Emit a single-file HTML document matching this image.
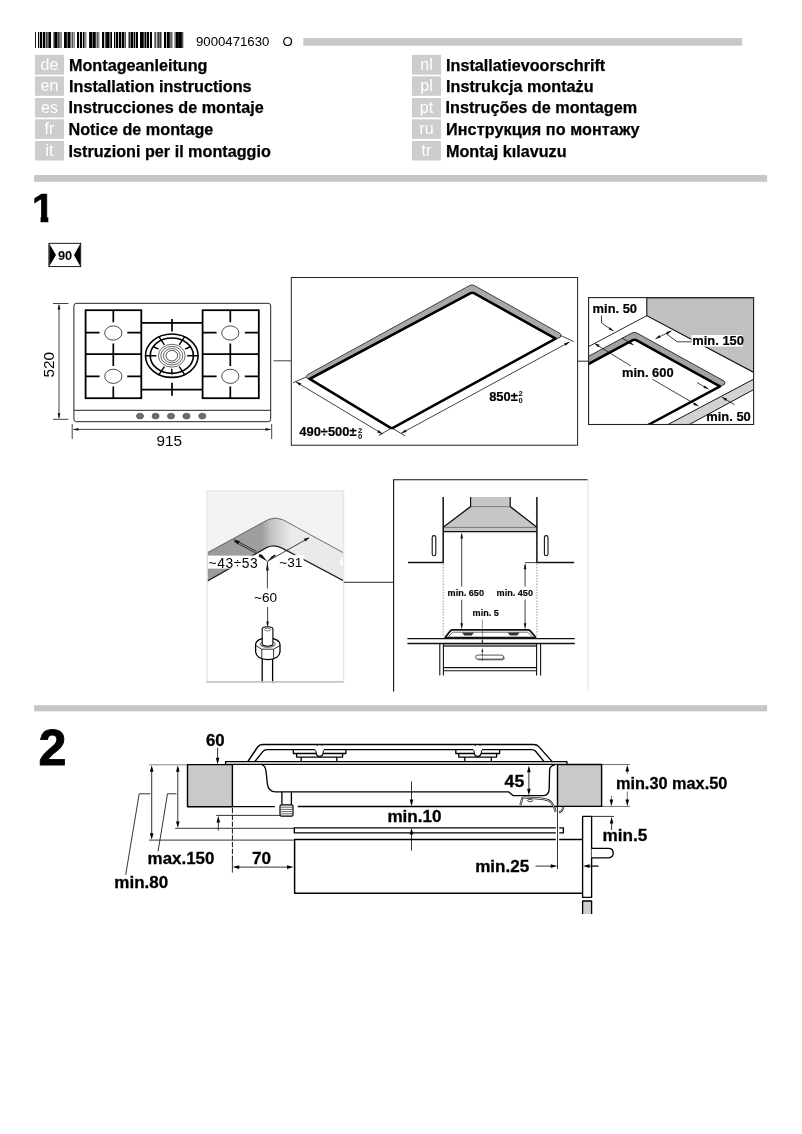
<!DOCTYPE html>
<html lang="de">
<head>
<meta charset="utf-8">
<title>Montageanleitung 9000471630</title>
<style>
html,body{margin:0;padding:0;background:#fff;}
body{width:802px;height:1134px;overflow:hidden;position:relative;font-family:"Liberation Sans",sans-serif;}
svg{position:absolute;left:0;top:0;display:block;will-change:transform;}
text{font-family:"Liberation Sans",sans-serif;fill:#000;}
.b{font-weight:bold;}
.h{font-weight:bold;font-size:16.2px;stroke:#000;stroke-width:0.25px;}
.lc{font-size:16px;fill:#fff;text-anchor:middle;}
.s2{font-weight:bold;font-size:16.1px;}
.s2x{stroke:#000;stroke-width:0.3px;}
.ln{fill:none;stroke:#000;}
</style>
</head>
<body>
<svg width="802" height="1134" viewBox="0 0 802 1134">
<g id="barcode" shape-rendering="crispEdges">
<rect x="35" y="32" width="1" height="16" fill="#1c1c1c"/>
<rect x="38" y="32" width="1" height="16" fill="#000000"/>
<rect x="39" y="32" width="1" height="16" fill="#c6c6c6"/>
<rect x="40" y="32" width="1" height="16" fill="#000000"/>
<rect x="41" y="32" width="1" height="16" fill="#000000"/>
<rect x="42" y="32" width="1" height="16" fill="#c6c6c6"/>
<rect x="43" y="32" width="1" height="16" fill="#000000"/>
<rect x="44" y="32" width="1" height="16" fill="#000000"/>
<rect x="45" y="32" width="1" height="16" fill="#aaaaaa"/>
<rect x="46" y="32" width="1" height="16" fill="#393939"/>
<rect x="47" y="32" width="1" height="16" fill="#717171"/>
<rect x="48" y="32" width="1" height="16" fill="#555555"/>
<rect x="49" y="32" width="1" height="16" fill="#000000"/>
<rect x="50" y="32" width="1" height="16" fill="#000000"/>
<rect x="53" y="32" width="1" height="16" fill="#8e8e8e"/>
<rect x="54" y="32" width="1" height="16" fill="#393939"/>
<rect x="55" y="32" width="1" height="16" fill="#000000"/>
<rect x="56" y="32" width="1" height="16" fill="#000000"/>
<rect x="57" y="32" width="1" height="16" fill="#717171"/>
<rect x="58" y="32" width="1" height="16" fill="#393939"/>
<rect x="59" y="32" width="1" height="16" fill="#717171"/>
<rect x="60" y="32" width="1" height="16" fill="#8e8e8e"/>
<rect x="61" y="32" width="1" height="16" fill="#8e8e8e"/>
<rect x="64" y="32" width="1" height="16" fill="#000000"/>
<rect x="65" y="32" width="1" height="16" fill="#000000"/>
<rect x="66" y="32" width="1" height="16" fill="#1c1c1c"/>
<rect x="67" y="32" width="1" height="16" fill="#717171"/>
<rect x="68" y="32" width="1" height="16" fill="#000000"/>
<rect x="69" y="32" width="1" height="16" fill="#000000"/>
<rect x="70" y="32" width="1" height="16" fill="#717171"/>
<rect x="71" y="32" width="1" height="16" fill="#aaaaaa"/>
<rect x="72" y="32" width="1" height="16" fill="#555555"/>
<rect x="73" y="32" width="1" height="16" fill="#aaaaaa"/>
<rect x="74" y="32" width="1" height="16" fill="#8e8e8e"/>
<rect x="77" y="32" width="1" height="16" fill="#000000"/>
<rect x="78" y="32" width="1" height="16" fill="#000000"/>
<rect x="79" y="32" width="1" height="16" fill="#e3e3e3"/>
<rect x="80" y="32" width="1" height="16" fill="#000000"/>
<rect x="81" y="32" width="1" height="16" fill="#000000"/>
<rect x="82" y="32" width="1" height="16" fill="#e3e3e3"/>
<rect x="83" y="32" width="1" height="16" fill="#000000"/>
<rect x="84" y="32" width="1" height="16" fill="#717171"/>
<rect x="85" y="32" width="1" height="16" fill="#8e8e8e"/>
<rect x="86" y="32" width="1" height="16" fill="#c6c6c6"/>
<rect x="89" y="32" width="1" height="16" fill="#1c1c1c"/>
<rect x="90" y="32" width="1" height="16" fill="#000000"/>
<rect x="91" y="32" width="1" height="16" fill="#000000"/>
<rect x="92" y="32" width="1" height="16" fill="#717171"/>
<rect x="93" y="32" width="1" height="16" fill="#000000"/>
<rect x="94" y="32" width="1" height="16" fill="#000000"/>
<rect x="95" y="32" width="1" height="16" fill="#393939"/>
<rect x="96" y="32" width="1" height="16" fill="#aaaaaa"/>
<rect x="97" y="32" width="1" height="16" fill="#555555"/>
<rect x="98" y="32" width="1" height="16" fill="#8e8e8e"/>
<rect x="99" y="32" width="1" height="16" fill="#c6c6c6"/>
<rect x="102" y="32" width="1" height="16" fill="#000000"/>
<rect x="103" y="32" width="1" height="16" fill="#000000"/>
<rect x="104" y="32" width="1" height="16" fill="#c6c6c6"/>
<rect x="105" y="32" width="1" height="16" fill="#555555"/>
<rect x="106" y="32" width="1" height="16" fill="#1c1c1c"/>
<rect x="107" y="32" width="1" height="16" fill="#000000"/>
<rect x="108" y="32" width="1" height="16" fill="#000000"/>
<rect x="109" y="32" width="1" height="16" fill="#717171"/>
<rect x="110" y="32" width="1" height="16" fill="#555555"/>
<rect x="111" y="32" width="1" height="16" fill="#000000"/>
<rect x="114" y="32" width="1" height="16" fill="#000000"/>
<rect x="115" y="32" width="1" height="16" fill="#aaaaaa"/>
<rect x="116" y="32" width="1" height="16" fill="#000000"/>
<rect x="117" y="32" width="1" height="16" fill="#000000"/>
<rect x="118" y="32" width="1" height="16" fill="#c6c6c6"/>
<rect x="119" y="32" width="1" height="16" fill="#000000"/>
<rect x="120" y="32" width="1" height="16" fill="#000000"/>
<rect x="121" y="32" width="1" height="16" fill="#aaaaaa"/>
<rect x="122" y="32" width="1" height="16" fill="#000000"/>
<rect x="123" y="32" width="1" height="16" fill="#000000"/>
<rect x="124" y="32" width="1" height="16" fill="#8e8e8e"/>
<rect x="125" y="32" width="1" height="16" fill="#555555"/>
<rect x="128" y="32" width="1" height="16" fill="#8e8e8e"/>
<rect x="129" y="32" width="1" height="16" fill="#393939"/>
<rect x="130" y="32" width="1" height="16" fill="#717171"/>
<rect x="131" y="32" width="1" height="16" fill="#000000"/>
<rect x="132" y="32" width="1" height="16" fill="#000000"/>
<rect x="133" y="32" width="1" height="16" fill="#8e8e8e"/>
<rect x="134" y="32" width="1" height="16" fill="#000000"/>
<rect x="135" y="32" width="1" height="16" fill="#aaaaaa"/>
<rect x="136" y="32" width="1" height="16" fill="#000000"/>
<rect x="137" y="32" width="1" height="16" fill="#000000"/>
<rect x="140" y="32" width="1" height="16" fill="#000000"/>
<rect x="141" y="32" width="1" height="16" fill="#000000"/>
<rect x="142" y="32" width="1" height="16" fill="#000000"/>
<rect x="143" y="32" width="1" height="16" fill="#393939"/>
<rect x="144" y="32" width="1" height="16" fill="#717171"/>
<rect x="145" y="32" width="1" height="16" fill="#000000"/>
<rect x="146" y="32" width="1" height="16" fill="#8e8e8e"/>
<rect x="147" y="32" width="1" height="16" fill="#000000"/>
<rect x="148" y="32" width="1" height="16" fill="#000000"/>
<rect x="149" y="32" width="1" height="16" fill="#e3e3e3"/>
<rect x="150" y="32" width="1" height="16" fill="#000000"/>
<rect x="151" y="32" width="1" height="16" fill="#000000"/>
<rect x="154" y="32" width="1" height="16" fill="#8e8e8e"/>
<rect x="155" y="32" width="1" height="16" fill="#555555"/>
<rect x="156" y="32" width="1" height="16" fill="#c6c6c6"/>
<rect x="157" y="32" width="1" height="16" fill="#717171"/>
<rect x="158" y="32" width="1" height="16" fill="#393939"/>
<rect x="159" y="32" width="1" height="16" fill="#717171"/>
<rect x="160" y="32" width="1" height="16" fill="#393939"/>
<rect x="161" y="32" width="1" height="16" fill="#8e8e8e"/>
<rect x="164" y="32" width="1" height="16" fill="#000000"/>
<rect x="165" y="32" width="1" height="16" fill="#000000"/>
<rect x="166" y="32" width="1" height="16" fill="#c6c6c6"/>
<rect x="167" y="32" width="1" height="16" fill="#000000"/>
<rect x="168" y="32" width="1" height="16" fill="#000000"/>
<rect x="169" y="32" width="1" height="16" fill="#393939"/>
<rect x="170" y="32" width="1" height="16" fill="#717171"/>
<rect x="171" y="32" width="1" height="16" fill="#717171"/>
<rect x="172" y="32" width="1" height="16" fill="#aaaaaa"/>
<rect x="174" y="32" width="1" height="16" fill="#aaaaaa"/>
<rect x="175" y="32" width="1" height="16" fill="#717171"/>
<rect x="176" y="32" width="1" height="16" fill="#000000"/>
<rect x="177" y="32" width="1" height="16" fill="#000000"/>
<rect x="178" y="32" width="1" height="16" fill="#1c1c1c"/>
<rect x="179" y="32" width="1" height="16" fill="#000000"/>
<rect x="180" y="32" width="1" height="16" fill="#000000"/>
<rect x="181" y="32" width="1" height="16" fill="#1c1c1c"/>
<rect x="182" y="32" width="1" height="16" fill="#555555"/>
<rect x="183" y="32" width="1" height="16" fill="#c6c6c6"/>
</g>
<text x="196" y="45.5" font-size="13.2">9000471630</text>
<text x="282.5" y="45.5" font-size="13.2">O</text>
<rect x="303.3" y="38.1" width="438.9" height="7.6" fill="#c7c7c7"/>
<rect x="34.1" y="175" width="733" height="6.8" fill="#c7c7c7"/>
<rect x="34.1" y="705.2" width="733" height="6.2" fill="#c7c7c7"/>
<g fill="#cdcdcd">
<rect x="35" y="54.9" width="29" height="19.8"/>
<rect x="35" y="76.3" width="29" height="19.5"/>
<rect x="35" y="98" width="29" height="19.5"/>
<rect x="35" y="119.3" width="29" height="19.5"/>
<rect x="35" y="141" width="29" height="19.5"/>
<rect x="412" y="54.9" width="29" height="19.8"/>
<rect x="412" y="76.3" width="29" height="19.5"/>
<rect x="412" y="98" width="29" height="19.5"/>
<rect x="412" y="119.3" width="29" height="19.5"/>
<rect x="412" y="141" width="29" height="19.5"/>
</g>
<text class="lc" x="49.5" y="70">de</text>
<text class="lc" x="49.5" y="91.3">en</text>
<text class="lc" x="49.5" y="113">es</text>
<text class="lc" x="49.5" y="134.3">fr</text>
<text class="lc" x="49.5" y="156">it</text>
<text class="lc" x="426.5" y="70">nl</text>
<text class="lc" x="426.5" y="91.3">pl</text>
<text class="lc" x="426.5" y="113">pt</text>
<text class="lc" x="426.5" y="134.3">ru</text>
<text class="lc" x="426.5" y="156">tr</text>
<text class="h" x="69" y="70.5">Montageanleitung</text>
<text class="h" x="69" y="91.7">Installation instructions</text>
<text class="h" x="68.5" y="113.3">Instrucciones de montaje</text>
<text class="h" x="68.5" y="134.8">Notice de montage</text>
<text class="h" x="68.5" y="156.5">Istruzioni per il montaggio</text>
<text class="h" x="446" y="70.5">Installatievoorschrift</text>
<text class="h" x="446" y="91.7">Instrukcja montażu</text>
<text class="h" x="445.5" y="113.3">Instruções de montagem</text>
<text class="h" x="446" y="134.8" textLength="193.5">Инструкция по монтажу</text>
<text class="h" x="446" y="156.5">Montaj kılavuzu</text>
<clipPath id="cp1"><path d="M31.5 190 H48.3 V224 H40.6 V210 H31.5 Z"/></clipPath>
<g clip-path="url(#cp1)"><text class="b" x="31.9" y="221.9" font-size="40" stroke="#000" stroke-width="0.7">1</text></g>
<text class="b" x="38.5" y="765" font-size="50.2" stroke="#000" stroke-width="0.9" stroke-linejoin="miter">2</text>
<g id="icon90">
<rect x="48.9" y="243.3" width="31.8" height="23.3" fill="#fff" stroke="#000" stroke-width="0.9"/>
<path d="M49.3 243.7 L56 255 L49.3 266.3 Z" fill="#000"/>
<path d="M80.3 243.7 L74 255 L80.3 266.3 Z" fill="#000"/>
<text class="b" x="65" y="260.3" font-size="12.8" text-anchor="middle">90</text>
</g>

<g id="fig1">
<g id="hob-top" fill="none" stroke="#000">
<rect x="73.9" y="303.3" width="196.8" height="118.4" rx="2.5" ry="2.5" stroke="#222" stroke-width="1"/>
<path d="M73.9 410.3 H270.7" stroke="#222" stroke-width="1"/>
<rect x="85.6" y="310.2" width="55.7" height="88" stroke-width="1.8"/>
<path d="M85.6 354.2 H141.3 M113.3 310.2 V322.3 M113.3 343.6 V366 M113.3 386.6 V398.2 M85.6 332.6 H99.6 M127.30000000000001 332.6 H141.3 M85.6 376.3 H99.6 M127.30000000000001 376.3 H141.3" stroke-width="1.7"/>
<ellipse cx="113.3" cy="333" rx="8.6" ry="7.1" stroke-width="0.7"/>
<ellipse cx="113.3" cy="376.3" rx="8.6" ry="7.1" stroke-width="0.7"/>
<rect x="202.6" y="310.2" width="56.2" height="88" stroke-width="1.8"/>
<path d="M202.6 354.2 H258.8 M230.3 310.2 V322.3 M230.3 343.6 V366 M230.3 386.6 V398.2 M202.6 332.6 H216.6 M244.8 332.6 H258.8 M202.6 376.3 H216.6 M244.8 376.3 H258.8" stroke-width="1.7"/>
<ellipse cx="230.3" cy="333" rx="8.6" ry="7.1" stroke-width="0.7"/>
<ellipse cx="230.3" cy="376.3" rx="8.6" ry="7.1" stroke-width="0.7"/>
<path d="M141.3 322.8 H202.6 M141.3 389.6 H202.6 M172.0 319 V331.4 M172.0 382.8 V395.8" stroke-width="1.7"/>
<ellipse cx="171.8" cy="355.7" rx="26.3" ry="21.7" stroke-width="1.6"/>
<ellipse cx="171.8" cy="355.7" rx="21.6" ry="17.7" stroke-width="1.6"/>
<ellipse cx="171.8" cy="355.7" rx="13.4" ry="11.4" stroke-width="0.6"/>
<ellipse cx="171.8" cy="355.7" rx="11" ry="9.3" stroke-width="0.6"/>
<ellipse cx="171.8" cy="355.7" rx="8.4" ry="7.2" stroke-width="0.6"/>
<ellipse cx="171.8" cy="355.7" rx="5.8" ry="5.3" stroke-width="0.7"/>
<path d="M187.2 355.7 L197.9 355.7 M156.4 355.7 L145.7 355.7 M179.2 344.8 L184.9 336.4 M164.4 344.8 L158.7 336.4 M164.4 366.6 L158.7 375.0 M179.2 366.6 L184.9 375.0 M171.8 368.8 L171.8 374.2 M185.1 349.1 L190.6 346.5 M158.5 349.1 L153.0 346.5" stroke-width="1.4"/>
</g>
<g fill="#6e6e6e" stroke="#333" stroke-width="0.5">
<ellipse cx="140" cy="416.1" rx="3.6" ry="2.9"/>
<ellipse cx="155.6" cy="416.1" rx="3.6" ry="2.9"/>
<ellipse cx="171" cy="416.1" rx="3.6" ry="2.9"/>
<ellipse cx="186.5" cy="416.1" rx="3.6" ry="2.9"/>
<ellipse cx="202.3" cy="416.1" rx="3.6" ry="2.9"/>
</g>
<g fill="none" stroke="#111" stroke-width="0.8">
<path d="M53 303.5 H68.5 M53 419.3 H68.5 M59 305 V418 M72.2 424 V439 M271.7 424 V439 M73.5 429.4 H270.5"/>
<path d="M273.5 360.8 H291"/>
</g>
<g fill="#111" stroke="none">
<path d="M59 304 L57.6 309.5 L60.4 309.5 Z M59 418.8 L57.6 413.3 L60.4 413.3 Z"/>
<path d="M73 429.4 L78.5 428 L78.5 430.8 Z M271 429.4 L265.5 428 L265.5 430.8 Z"/>
</g>
<text x="156.5" y="445.6" font-size="15.3" fill="#222">915</text>
<text transform="translate(53.9 377.4) rotate(-90)" font-size="15.3" fill="#222">520</text>
<g id="cutout">
<rect x="291.3" y="277.5" width="286.3" height="167.7" fill="#fff" stroke="#222" stroke-width="1"/>
<path d="M307 378.3 Q305.6 376.2 307.6 374.6 L469.5 285.6 Q472 284.2 474.5 285.6 L560 333.4 Q562 335 560.2 337.4 L555.2 339.2 L472.3 292.8 L310.3 379.6 Z" fill="#a9a9a9" stroke="#333" stroke-width="0.9"/>
<path d="M309.6 378.9 L470.6 293.2 Q472.3 292.3 474 293.2 L555.6 338.6 L393.4 427.6 Q391.8 428.5 390.2 427.6 Z" fill="none" stroke="#000" stroke-width="2.5" stroke-linejoin="round"/>
<g fill="none" stroke="#111" stroke-width="0.8">
<path d="M306 377 L293 382.8 M391 428.3 L378.6 435.6 M392.4 428.3 L405 435.8 M560.7 335.5 L573.8 341.6"/>
<path d="M295.8 381.8 L382.6 434 M401.2 433.3 L569.6 341.9"/>
</g>
<g fill="#111">
<path d="M295.8 381.8 L301.2 383.3 L299.8 385.8 Z M382.6 434 L377.2 432.5 L378.6 430 Z"/>
<path d="M401.2 433.3 L405.2 429.5 L406.6 432 Z M569.6 341.9 L565.6 345.7 L564.2 343.2 Z"/>
</g>
<text class="b" x="299.3" y="435.7" font-size="12.9" stroke="#000" stroke-width="0.2">490÷500±</text>
<text class="b" x="357.9" y="432.5" font-size="7.6">2</text>
<text class="b" x="357.9" y="438.9" font-size="7.6">0</text>
<text class="b" x="489.2" y="401.2" font-size="12.9" stroke="#000" stroke-width="0.2">850±</text>
<text class="b" x="518.6" y="395.9" font-size="7.6">2</text>
<text class="b" x="518.6" y="402.9" font-size="7.6">0</text>
<path d="M577.6 361.2 H588.6" stroke="#111" stroke-width="0.9" fill="none"/>
</g>

<g id="clearance">
<clipPath id="cp3"><rect x="588.6" y="297.6" width="165" height="126.9"/></clipPath>
<rect x="588.6" y="297.6" width="165" height="126.9" fill="#fff"/>
<g clip-path="url(#cp3)">
<path d="M646.8 297.6 H753.6 V372.3 L646.8 315.7 Z" fill="#c1c1c1" stroke="#111" stroke-width="1.1"/>
<path d="M646.8 315.7 L588.6 346.6" fill="none" stroke="#111" stroke-width="0.9"/>
<path d="M753.6 379.2 L668 424.8 L689 424.8 L753.6 389.6 Z" fill="#d2d2d2" stroke="none"/>
<path d="M753.6 379.2 L666 425.5 M753.6 389.6 L687.5 425.5" fill="none" stroke="#111" stroke-width="1"/>
<path d="M586 357.6 L632 333 Q634.4 331.7 636.8 333 L724 381 Q725.8 382.3 724.4 384.4 L719.6 386.6 L634.6 339.6 L586 365 Z" fill="#a3a3a3" stroke="#222" stroke-width="0.9"/>
<path d="M586 365.3 L632.8 340.2 Q634.5 339.4 636.2 340.2 L720 386.3 L647 425.5" fill="none" stroke="#000" stroke-width="2.5" stroke-linejoin="round"/>
<g fill="none" stroke="#111" stroke-width="0.8">
<path d="M601.5 315.5 V323 L613.5 331"/>
<path d="M594.5 343.5 L631 366"/>
<path d="M652.3 379.2 L698.4 406"/>
<path d="M655.6 338.8 L671.4 330.8 M666 333.5 L677.2 341.8 H692"/>
<path d="M622 338 L633.5 345"/>
<path d="M697.2 382.7 L708.4 389"/>
<path d="M722 397.2 L734.6 404.7"/>
</g>
<g fill="#111">
<path d="M613.5 331 L608.6 329.6 L610 327.3 Z"/>
<path d="M594.5 343.5 L599.6 344.8 L598.2 347.2 Z"/>
<path d="M698.4 406 L693.3 404.9 L694.7 402.5 Z"/>
<path d="M655.6 338.8 L659.4 335.1 L660.6 337.6 Z M671.4 330.8 L667.6 334.5 L666.4 332 Z"/>
<path d="M633.5 345 L628.6 343.6 L630 341.3 Z"/>
<path d="M708.4 389 L703.4 387.8 L704.7 385.4 Z"/>
<path d="M722 397.2 L727 398.5 L725.7 400.9 Z"/>
</g>
</g>
<rect x="691.6" y="335" width="51" height="11.6" fill="#fff"/>
<text class="b" x="592.6" y="313" font-size="12.9" stroke="#000" stroke-width="0.2">min. 50</text>
<text class="b" x="692.3" y="344.6" font-size="12.9" stroke="#000" stroke-width="0.2">min. 150</text>
<text class="b" x="622" y="377.3" font-size="12.9" stroke="#000" stroke-width="0.2">min. 600</text>
<text class="b" x="706.3" y="420.7" font-size="12.9" stroke="#000" stroke-width="0.2">min. 50</text>
<rect x="588.6" y="297.6" width="165" height="126.9" fill="none" stroke="#222" stroke-width="1.1"/>
</g>

<g id="gasconn">
<defs>
<linearGradient id="gb" gradientUnits="userSpaceOnUse" x1="207" y1="0" x2="344" y2="0">
<stop offset="0" stop-color="#9b9b9b"/>
<stop offset="0.40" stop-color="#9f9f9f"/>
<stop offset="0.47" stop-color="#c4c4c4"/>
<stop offset="0.62" stop-color="#ebebeb"/>
<stop offset="1" stop-color="#e9e9e9"/>
</linearGradient>
<clipPath id="cp4"><rect x="207.5" y="490.8" width="136" height="191.5"/></clipPath>
</defs>
<rect x="207.5" y="490.8" width="136" height="191.5" fill="#fff"/>
<g clip-path="url(#cp4)">
<path d="M207.5 490.8 H343.6 V552.8 L282.5 519.6 Q275.5 516.6 268.5 519.4 L207.5 552.6 Z" fill="#f3f3f3"/>
<path d="M205 554 L268.5 519.4 Q275.5 516.6 282.5 519.6 L345 553.6 V581.6 L283 548.6 Q275 544 267 547.4 L205 582.4 Z" fill="url(#gb)"/>
<path d="M205 554 L268.5 519.4 Q275.5 516.6 282.5 519.6 L345 553.6" fill="none" stroke="#333" stroke-width="0.7"/>
<path d="M205 582.4 L267 547.4 Q275 544 283 548.6 L345 581.6" fill="none" stroke="#222" stroke-width="1.3"/>
<path d="M343.6 556 L339 562 L343.6 568 Z" fill="#fff"/>
</g>
<rect x="208" y="555.6" width="49.5" height="13" fill="#fff"/>
<rect x="278.6" y="555" width="25" height="13" fill="#fff"/>
<text x="208.6" y="568" font-size="13.8" fill="#111" textLength="49.2" lengthAdjust="spacing">~43÷53</text>
<text x="279.3" y="567" font-size="13.6" fill="#111">~31</text>
<text x="254" y="601.6" font-size="13.6" fill="#111">~60</text>
<g fill="none" stroke="#111" stroke-width="0.8">
<path d="M256.6 551.4 L235 540 M255.8 553 L234.4 541.6"/>
<path d="M267.4 561.4 L309 537.8"/>
<path d="M267.4 561.6 V588.5 M267.6 607 V622"/>
</g>
<g fill="#111">
<path d="M233.4 539.6 L239.8 541 L237.8 544.6 Z"/>
<path d="M309.6 537.5 L305.4 541.6 L303.8 538.8 Z"/>
<path d="M267.4 561.6 L258.6 556.6 L259.6 554 L262 554.8 Z"/>
<path d="M267.4 561.6 L275.8 555.8 L274.8 554.6 L271.6 556.6 Z"/>
<path d="M267.4 562.6 L266 570.6 L268.8 570.6 Z"/>
<path d="M267.6 628 L266.3 621.4 L268.9 621.4 Z"/>
</g>
<g fill="#fff" stroke="#000" stroke-width="0.8">
<path d="M262.2 659 V683 M272.6 659 V683" stroke-width="1.3"/>
<path d="M255.6 645.4 Q255.6 638.4 267.6 638.2 Q280 638.4 280 645.4 V652 Q279 659.4 267.8 659.6 Q256.6 659.4 255.6 652 Z" stroke-width="1.3"/>
<path d="M255.8 645.6 L261.8 649.2 H273.6 L279.8 645.6 M261.8 649.2 V658.4 M273.6 649.2 V658.4" fill="none" stroke-width="0.8"/>
<ellipse cx="267.7" cy="644.2" rx="7.6" ry="3.2" stroke-width="0.6"/>
<path d="M262.2 645 V629 Q262.2 626.8 267.6 626.8 Q272.9 626.8 272.9 629 V645 Q267.6 647.4 262.2 645 Z" stroke-width="1.1"/>
<ellipse cx="267.6" cy="629.6" rx="3.1" ry="1.3" stroke-width="0.5"/>
</g>
<path d="M207 682 V490.8 H343.6 V682" fill="none" stroke="#e6e6e6" stroke-width="1.3"/>
<path d="M206.4 681.9 H344.2" fill="none" stroke="#c6c6c6" stroke-width="1.6"/>
<path d="M343.8 582.3 H393.6" stroke="#111" stroke-width="0.9" fill="none"/>
</g>

<g id="hood">
<path d="M393.6 691.4 V479.7 H587.6" fill="none" stroke="#111" stroke-width="1.1"/>
<path d="M588 480 V691" fill="none" stroke="#d8d8d8" stroke-width="0.8"/>
<path d="M470.6 497 H510.2 V506.6 L536.9 527.2 V531.6 H443.2 V527.2 L470.6 506.6 Z" fill="#c6c6c6" stroke="none"/>
<g fill="none" stroke="#111">
<path d="M470.6 497 V506.6 L443.2 527.2 M510.2 497 V506.6 L536.9 527.2" stroke-width="1.2"/>
<path d="M470.6 506.6 H510.2" stroke-width="0.6" stroke="#444"/>
<path d="M443.2 527.4 H536.9" stroke-width="0.7" stroke="#555"/>
<path d="M443.2 531.6 H536.9" stroke-width="1.3"/>
<path d="M443.2 497 V562.4 H408" stroke-width="1.5"/>
<path d="M536.9 497 V562.4 H574.2" stroke-width="1.5"/>
<rect x="432.2" y="535.6" width="3.6" height="20.2" rx="1.8" ry="1.8" stroke-width="1.1"/>
<rect x="544.4" y="535.6" width="3.6" height="20.2" rx="1.8" ry="1.8" stroke-width="1.1"/>
<path d="M443.2 564 V636 M536.9 564 V636" stroke="#666" stroke-width="0.7" stroke-dasharray="1.4 1.4"/>
<path d="M461.7 534 V586.6 M461.7 599.6 V626 M525.1 564.6 V586.6 M525.1 599.6 V626 M525.1 562.6 H536.6" stroke-width="0.8"/>
<path d="M482.4 619.4 V643.6 M482.4 648.6 V661" stroke-width="0.5" stroke="#333"/>
</g>
<g fill="#111">
<path d="M461.7 532.4 L460.4 538.6 L463 538.6 Z M461.7 629.4 L460.4 623.2 L463 623.2 Z"/>
<path d="M525.1 563 L523.8 569.2 L526.4 569.2 Z M525.1 629.4 L523.8 623.2 L526.4 623.2 Z"/>
<path d="M482.4 644 L481.5 640.4 L483.3 640.4 Z M482.4 648.4 L481.5 652 L483.3 652 Z"/>
</g>
<text class="b" x="447.6" y="595.8" font-size="9.1" fill="#111" stroke="#111" stroke-width="0.15">min. 650</text>
<text class="b" x="496.6" y="595.8" font-size="9.1" fill="#111" stroke="#111" stroke-width="0.15">min. 450</text>
<text class="b" x="472.6" y="616" font-size="9.1" fill="#111" stroke="#111" stroke-width="0.15">min. 5</text>
<g id="hobside" fill="none" stroke="#111">
<path d="M445.2 637.2 L450.6 630.6 Q451.4 629.8 452.6 629.8 H528 Q529.2 629.8 530 630.6 L535.6 637.2" stroke-width="1.8"/>
<path d="M448.6 636.6 L452.6 632.2 H527.8 L532 636.6" stroke-width="0.6"/>
<path d="M462 632.4 H474 L471.6 635.6 H464.4 Z M507.6 632.4 H519.6 L517.2 635.6 H510 Z" fill="#333" stroke="none"/>
<path d="M444.4 637.4 H536.4" stroke-width="1.3"/>
<path d="M407.4 638.6 H574.8" stroke-width="1.1"/>
<path d="M407.4 643.6 H574.8" stroke-width="1.5"/>
<path d="M443.5 645.8 H536.5" stroke="#6a6a6a" stroke-width="2.6"/>
<path d="M439.8 644 V675.6 M443.4 644 V675.6 M536.6 644 V675.6 M540.6 644 V675.6" stroke-width="1.1"/>
<path d="M443.4 667.6 H536.6 M443.4 670.8 H536.6" stroke-width="1.1"/>
<rect x="476.8" y="656.2" width="28" height="4.2" rx="2.1" ry="2.1" fill="#999" stroke="none"/>
<rect x="475.6" y="655.1" width="28" height="4" rx="2" ry="2" fill="#fff" stroke-width="0.7"/>
<path d="M482.4 653 V661" stroke-width="0.5" stroke="#333"/>
</g>
</g>

</g>
<g id="fig2">
<g id="section" fill="none" stroke="#000" stroke-linejoin="round">
<g stroke="#111" stroke-width="0.85">
<path d="M148.9 764.8 H187.5" stroke="#777" stroke-width="0.9"/>
<path d="M216.2 815.4 H280 M175.2 828.3 H294.2 M148.9 840.1 H294.5"/>
<path d="M151.7 768 V836.5 M177.8 768 V824.5 M218.3 820 V830.6"/>
<path d="M150.5 793.8 H139.2 L125.7 874.8 M176.5 793.8 H167.5 L158.1 851.3"/>
<path d="M217.6 747.6 V760"/>
<path d="M232.4 808 V860" stroke-dasharray="5.2 1.6" stroke-width="1"/>
<path d="M232.4 860 V872.6 M236 867.1 H290" />
<path d="M411.5 781.5 V802 M411.5 832 V850.5"/>
<path d="M528.9 770 V791"/>
<path d="M535.5 866.1 H552 M588 866.1 H598.5"/>
<path d="M601.6 764.5 H630 M601.6 806.4 H630 M627.3 769 V774 M627.3 791.5 V802 M611.4 795.8 V802" stroke-width="0.6"/>
<path d="M591.6 816.4 H614 M611.6 821 V830"/>
</g>
<rect x="187.5" y="764.6" width="44.9" height="42.1" fill="#c9c9c9" stroke-width="1.4"/>
<rect x="557.5" y="764.5" width="44.1" height="41.9" fill="#c9c9c9" stroke-width="1.4"/>
<path d="M232.4 806.6 H274.8 M297.8 806.5 H557.5" stroke-width="1.3"/>
<path d="M225.6 764.4 V761.6 H566.9 V764.4 Z" fill="#fff" stroke-width="1.35"/>
<path d="M247.9 761.5 L257.6 747 Q259.4 744.5 262.6 744.5 H533.5 Q537 744.5 538.8 746.6 L551.9 761.4" stroke-width="1.35"/>
<path d="M254.9 761.5 L263 751.4 Q264.4 749.6 267 749.6 H531.6 Q534 749.6 535.4 751 L543.9 761.4" stroke-width="1.35"/>
<path d="M293.3 749.8 V753.5 H345.9 V749.8 M296.6 753.5 V757.1 H342.6 V753.5 M301.2 757.1 V761.6 M336.8 757.1 V761.6" stroke-width="1.3"/>
<path d="M315.0 749.6 Q316.20000000000005 749.8 316.1 752 Q316.20000000000005 756.4 319.6 756.4 Q323.0 756.4 323.1 752 Q323.0 749.8 324.20000000000005 749.6" fill="#fff" stroke-width="1.2"/>
<path d="M315.20000000000005 749.6 H324.0" stroke="#fff" stroke-width="1.6"/>
<ellipse cx="319.6" cy="750.4" rx="3" ry="4.6" fill="#fff" stroke="none"/>
<path d="M317.20000000000005 745 V746.2 M322.0 745 V746.2" stroke-width="0.7"/>
<path d="M455.8 749.8 V753.5 H499.6 V749.8 M458.8 753.5 V757.1 H496.6 V753.5 M464.8 757.1 V761.6 M491.3 757.1 V761.6" stroke-width="1.3"/>
<path d="M473.09999999999997 749.6 Q474.3 749.8 474.2 752 Q474.3 756.4 477.7 756.4 Q481.09999999999997 756.4 481.2 752 Q481.09999999999997 749.8 482.3 749.6" fill="#fff" stroke-width="1.2"/>
<path d="M473.3 749.6 H482.09999999999997" stroke="#fff" stroke-width="1.6"/>
<ellipse cx="477.7" cy="750.4" rx="3" ry="4.6" fill="#fff" stroke="none"/>
<path d="M475.3 745 V746.2 M480.09999999999997 745 V746.2" stroke-width="0.7"/>
<path d="M262 764.8 Q265.4 765.6 266 771 L267.4 784 Q268.4 791.8 275.5 791.8 H508.5 L513 795.6 H543.6 Q549 795.2 549.2 789 L549.6 770 Q549.8 765.6 555 764.8" stroke-width="1.35"/>
<path d="M281.9 792 V804.8 M291.4 792 V804.8" stroke-width="1.3"/>
<rect x="280" y="804.8" width="13" height="11.4" rx="1.4" fill="#fff" stroke-width="1.2"/>
<path d="M280.4 807.2 H292.6 M280.4 809.4 H292.6 M280.4 811.6 H292.6 M280.4 813.8 H292.6" stroke="#444" stroke-width="0.8"/>
<path d="M520.6 804.2 L522.3 798.4 Q522.7 797.4 524 797.5 L541 798.6 Q547.6 799.2 550.4 801.6 Q553.4 804.4 555.4 811" stroke="#111" stroke-width="2.1" stroke-linecap="round"/>
<path d="M520.6 804.2 L522.3 798.4 Q522.7 797.4 524 797.5 L541 798.6 Q547.6 799.2 550.4 801.6 Q553.4 804.4 555.4 811" stroke="#fff" stroke-width="0.8" stroke-linecap="round"/>
<ellipse cx="530" cy="800.6" rx="2.8" ry="1.1" fill="#fff" stroke="#111" stroke-width="0.7"/>
<path d="M559.9 812.2 Q562.6 810.8 563.3 807.4" stroke="#111" stroke-width="2" stroke-linecap="round"/>
<path d="M559.9 812.2 Q562.6 810.8 563.3 807.4" stroke="#fff" stroke-width="0.7" stroke-linecap="round"/>
<rect x="294.3" y="827.8" width="269.1" height="5" fill="#fff" stroke-width="1.35"/>
<path d="M582.6 839.5 H294.6 V893.2 H582.6" stroke-width="1.5"/>
<rect x="582.6" y="816.4" width="9" height="81" fill="#fff" stroke-width="1.35"/>
<path d="M582.6 901 H591.6 V914 H582.6 Z" fill="#cfcfcf" stroke="none"/>
<path d="M582.6 914 V901 H591.6 V914" stroke-width="1.3"/>
<path d="M591.6 848.4 H608.4 Q613.2 848.4 613.2 853.1 Q613.2 857.8 608.4 857.8 H591.6" fill="#fff" stroke-width="1.35"/>
<path d="M557.5 824 V843" stroke="#fff" stroke-width="3.4"/>
<path d="M557.5 807 V869" stroke="#111" stroke-width="0.85"/>
<path d="M588 866.1 H598.5" stroke="#111" stroke-width="0.85"/>
<path d="M151.7 765.2 L149.89999999999998 771.8000000000001 L153.5 771.8000000000001 Z M151.7 839.8 L149.89999999999998 833.1999999999999 L153.5 833.1999999999999 Z M177.8 765.2 L176.0 771.8000000000001 L179.60000000000002 771.8000000000001 Z M177.8 828 L176.0 821.4 L179.60000000000002 821.4 Z M218.3 815.8 L216.5 822.4 L220.10000000000002 822.4 Z M217.6 764.4 L215.79999999999998 757.8 L219.4 757.8 Z M232.6 867.1 L239.2 865.3000000000001 L239.2 868.9 Z M293.6 867.1 L287.0 865.3000000000001 L287.0 868.9 Z M411.5 806.2 L409.7 799.6 L413.3 799.6 Z M411.5 828 L409.7 834.6 L413.3 834.6 Z M528.9 765.6 L527.1 772.2 L530.6999999999999 772.2 Z M528.9 795.4 L527.1 788.8 L530.6999999999999 788.8 Z M557.3 866.1 L550.6999999999999 864.3000000000001 L550.6999999999999 867.9 Z M583 866.1 L589.6 864.3000000000001 L589.6 867.9 Z M627.3 764.8 L625.5 771.4 L629.0999999999999 771.4 Z M627.3 806.2 L625.5 799.6 L629.0999999999999 799.6 Z M611.4 806.2 L609.6 799.6 L613.1999999999999 799.6 Z M611.6 816.8 L609.8000000000001 823.4 L613.4 823.4 Z" fill="#000" stroke="none"/>
</g>
<text class="b s2x" x="206.0" y="746.2" font-size="16.6" textLength="18.7" lengthAdjust="spacingAndGlyphs">60</text>
<text class="b s2x" x="147.6" y="863.7" font-size="16.6" textLength="66.8" lengthAdjust="spacingAndGlyphs">max.150</text>
<text class="b s2x" x="114.3" y="887.5" font-size="16.6" textLength="53.9" lengthAdjust="spacingAndGlyphs">min.80</text>
<text class="b s2x" x="251.9" y="864.1" font-size="16.6" textLength="19.1" lengthAdjust="spacingAndGlyphs">70</text>
<text class="b s2x" x="387.4" y="821.8" font-size="16.6" textLength="54.1" lengthAdjust="spacingAndGlyphs">min.10</text>
<text class="b s2x" x="504.6" y="786.8" font-size="16.6" textLength="19.6" lengthAdjust="spacingAndGlyphs">45</text>
<text class="b s2x" x="615.9" y="788.9" font-size="16.6" textLength="111.4" lengthAdjust="spacingAndGlyphs">min.30 max.50</text>
<text class="b s2x" x="602.6" y="841.2" font-size="16.6" textLength="44.8" lengthAdjust="spacingAndGlyphs">min.5</text>
<text class="b s2x" x="475.2" y="872.3" font-size="16.6" textLength="54.0" lengthAdjust="spacingAndGlyphs">min.25</text>
</g>
</svg>
</body>
</html>
